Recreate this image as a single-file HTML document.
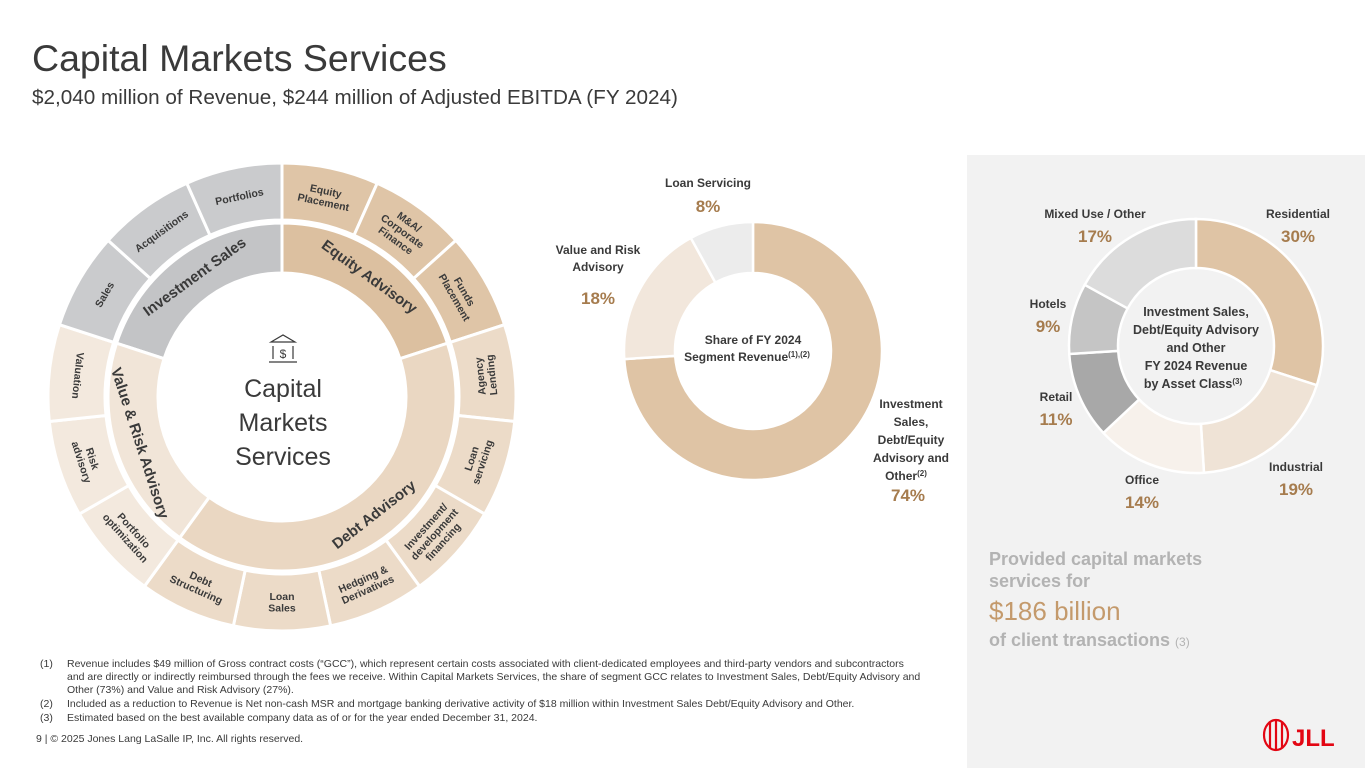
<!DOCTYPE html>
<html><head><meta charset="utf-8">
<style>
html,body{margin:0;padding:0;background:#fff;}
body{width:1365px;height:768px;position:relative;overflow:hidden;font-family:"Liberation Sans",sans-serif;color:#3a3a3a;}
svg{position:absolute;left:0;top:0;}
text{font-family:"Liberation Sans",sans-serif;}
</style></head><body>
<svg id="s" width="1365" height="768" viewBox="0 0 1365 768">
  <rect x="967" y="155" width="398" height="613" fill="#f2f2f2"/>
  <text x="32" y="71" font-size="37.5" fill="#3a3a3a" style="font-weight:300">Capital Markets Services</text>
  <text x="32" y="104" font-size="20.7" fill="#3a3a3a">$2,040 million of Revenue, $244 million of Adjusted EBITDA (FY 2024)</text>
  <g id="sun"></g>
  <g id="d1"></g>
  <g id="d2"></g>
  <g font-size="10.5" fill="#3a3a3a">
    <text x="40" y="667">(1)</text><text x="67" y="667">Revenue includes $49 million of Gross contract costs (“GCC”), which represent certain costs associated with client-dedicated employees and third-party vendors and subcontractors</text>
    <text x="67" y="680">and are directly or indirectly reimbursed through the fees we receive. Within Capital Markets Services, the share of segment GCC relates to Investment Sales, Debt/Equity Advisory and</text>
    <text x="67" y="693">Other (73%) and Value and Risk Advisory (27%).</text>
    <text x="40" y="707">(2)</text><text x="67" y="707">Included as a reduction to Revenue is Net non-cash MSR and mortgage banking derivative activity of $18 million within Investment Sales Debt/Equity Advisory and Other.</text>
    <text x="40" y="721">(3)</text><text x="67" y="721">Estimated based on the best available company data as of or for the year ended December 31, 2024.</text>
  </g>
  <text x="36" y="742" font-size="10.5" fill="#3a3a3a">9  |  © 2025 Jones Lang LaSalle IP, Inc. All rights reserved.</text>
  <g>
    <text x="989" y="565" font-size="18" font-weight="bold" fill="#b3b3b3">Provided capital markets</text>
    <text x="989" y="587" font-size="18" font-weight="bold" fill="#b3b3b3">services for</text>
    <text x="989" y="620" font-size="26" fill="#c49a6c" style="font-weight:300">$186 billion</text>
    <text x="989" y="646" font-size="18" font-weight="bold" fill="#b3b3b3">of client transactions <tspan font-size="12" font-weight="normal">(3)</tspan></text>
  </g>
  <g>
    <g fill="none" stroke="#e30613" stroke-width="2.2">
      <ellipse cx="1276" cy="735" rx="12" ry="15"/>
      <path d="M1270 722 v26 M1276 721 v28 M1282 722 v26"/>
    </g>
    <text x="1292" y="746" font-size="24" font-weight="bold" fill="#e30613" font-family="Liberation Serif">JLL</text>
  </g>
</svg>
<script>
// ===== Sunburst data =====
const innerLabels = ["Investment Sales","Equity Advisory","Debt Advisory","Value & Risk Advisory"];
const innerStart = [288, 0, 72, 216];
const innerEnd = [360, 72, 216, 288];
const innerColors = ["#c3c4c6","#dcc0a0","#ead7c2","#f1e5d8"];
const outerLabels = [["Equity","Placement"],["M&A/","Corporate","Finance"],["Funds","Placement"],["Agency","Lending"],["Loan","servicing"],["Investment/","development","financing"],["Hedging &","Derivatives"],["Loan","Sales"],["Debt","Structuring"],["Portfolio","optimization"],["Risk","advisory"],["Valuation"],["Sales"],["Acquisitions"],["Portfolios"]];
const outerGroup = [1,1,1,2,2,2,2,2,2,3,3,3,0,0,0];
const outerColors = ["#cacbcd","#dfc5a7","#ecdbc8","#f3e9de"];
// ===== Donut 1 data =====
const segCats = ["Investment Sales, Debt/Equity Advisory and Other","Value and Risk Advisory","Loan Servicing"];
const segValues = [74, 18, 8];
const segColors = ["#dfc4a5","#f2e7dc","#ececec"];
// ===== Donut 2 data =====
const assetCats = ["Residential","Industrial","Office","Retail","Hotels","Mixed Use / Other"];
const assetValues = [30, 19, 14, 11, 9, 17];
const assetColors = ["#dfc4a5","#efe3d6","#f7f1eb","#a8a8a8","#c5c5c5","#dcdcdc"];

const NS="http://www.w3.org/2000/svg";
function pt(cx,cy,r,a){const t=a*Math.PI/180;return [cx+r*Math.sin(t),cy-r*Math.cos(t)];}
function arc(cx,cy,r0,r1,a0,a1){
  const p1=pt(cx,cy,r1,a0),p2=pt(cx,cy,r1,a1),p3=pt(cx,cy,r0,a1),p4=pt(cx,cy,r0,a0);
  const lg=(a1-a0)>180?1:0;
  return `M${p1[0]},${p1[1]}A${r1},${r1} 0 ${lg} 1 ${p2[0]},${p2[1]}L${p3[0]},${p3[1]}A${r0},${r0} 0 ${lg} 0 ${p4[0]},${p4[1]}Z`;
}
function mk(tag,attrs,parent){const e=document.createElementNS(NS,tag);for(const k in attrs)e.setAttribute(k,attrs[k]);parent.appendChild(e);return e;}
function rotFor(a){a=((a%360)+360)%360;return (a>=300||a<=60)?a:a-180;}
function label(parent,x,y,rot,lines,size,weight,fill,lh){
  const t=mk('text',{transform:`translate(${x},${y}) rotate(${rot})`,'font-size':size,'font-weight':weight,fill:fill,'text-anchor':'middle'},parent);
  const n=lines.length;
  lines.forEach((l,i)=>{const s=mk('tspan',{x:0,y:(i-(n-1)/2)*lh+size*0.35},t);s.textContent=l;});
  return t;
}
// Sunburst
const sun=document.getElementById('sun');
const SX=282,SY=397;
const step=360/outerLabels.length;
outerLabels.forEach((lines,i)=>{
  const a0=i*step,a1=(i+1)*step;
  const p=mk('path',{d:arc(SX,SY,177,234,a0,a1),fill:outerColors[outerGroup[i]],stroke:'#fff','stroke-width':3},sun);
  
  
  const m=(a0+a1)/2,c=pt(SX,SY,205,m);
  const t=label(sun,c[0],c[1],rotFor(m),lines,10.5,'bold','#3a3a3a',11.5);
  
  
});
innerLabels.forEach((l,i)=>{
  const p=mk('path',{d:arc(SX,SY,124,174,innerStart[i],innerEnd[i]),fill:innerColors[i],stroke:'#fff','stroke-width':3},sun);
  
  
  let m=(innerStart[i]+innerEnd[i])/2; if(i===2)m=142;
  const c=pt(SX,SY,149,m);
  const t=label(sun,c[0],c[1],rotFor(m),[l],15,'bold','#3a3a3a',16);
  
  
});
// center
const ic=mk('g',{fill:'none',stroke:'#3a3a3a','stroke-width':1.2},sun);


mk('path',{d:'M271 342 L283 335 L295 342 Z M269 362 H297 M273 346 V359 M293 346 V359'},ic);
const dl=mk('text',{x:283,y:358,'font-size':12,'text-anchor':'middle',fill:'#3a3a3a'},sun);dl.textContent='$';
['Capital','Markets','Services'].forEach((w,i)=>{
  const t=mk('text',{x:283,y:397+i*34,'font-size':25,'text-anchor':'middle',fill:'#3a3a3a','font-weight':300},sun);
  t.textContent=w;
  
  
});
// Donut builder
function donut(g,cx,cy,r0,r1,vals,cols,name){
  const tot=vals.reduce((a,b)=>a+b,0);let a=0;
  vals.forEach((v,i)=>{const a1=a+v/tot*360;
    const p=mk('path',{d:arc(cx,cy,r0,r1,a,a1),fill:cols[i],stroke:'#fff','stroke-width':2.5},g);
    
    
    a=a1;});
}
const d1=document.getElementById('d1');
donut(d1,753,351,78,129,segValues,segColors,'segment-slice');
function txt(g,x,y,s,size,weight,fill,anchor,name){
  const t=mk('text',{x:x,y:y,'font-size':size,'font-weight':weight,fill:fill,'text-anchor':anchor||'middle'},g);
  t.textContent=s;
  
  
  return t;
}
const PC="#a67c4e";
txt(d1,708,187,segCats[2],12,'bold','#3a3a3a','middle','loan-servicing-label');
txt(d1,708,212,segValues[2]+'%',17,'bold',PC,'middle','loan-servicing-value');
txt(d1,598,254,'Value and Risk',12,'bold','#3a3a3a','middle','value-risk-label');
txt(d1,598,271,'Advisory',12,'bold','#3a3a3a','middle','value-risk-label');
txt(d1,598,304,segValues[1]+'%',17,'bold',PC,'middle','value-risk-value');
['Investment','Sales,','Debt/Equity','Advisory and'].forEach((l,i)=>txt(d1,911,408+i*18,l,12,'bold','#3a3a3a','middle','investment-sales-label'));
const ot=txt(d1,906,480,'Other',12,'bold','#3a3a3a','middle','investment-sales-label');
const sup=mk('tspan',{'font-size':8,dy:-4},ot);sup.textContent='(2)';
txt(d1,908,501,segValues[0]+'%',17,'bold',PC,'middle','investment-sales-value');
txt(d1,753,344,'Share of FY 2024',12,'bold','#3a3a3a','middle','donut-center-title');
const st=txt(d1,747,361,'Segment  Revenue',12,'bold','#3a3a3a','middle','donut-center-title');
const sp2=mk('tspan',{'font-size':8,dy:-4},st);sp2.textContent='(1),(2)';
// Donut 2
const d2=document.getElementById('d2');
donut(d2,1196,346,78,127,assetValues,assetColors,'asset-class-slice');
mk('circle',{cx:1196,cy:346,r:76,fill:'#f2f2f2'},d2);
const lp=[[1298,218],[1296,471],[1142,484],[1056,401],[1048,308],[1095,218]];
assetCats.forEach((c,i)=>{
  txt(d2,lp[i][0],lp[i][1],c,12,'bold','#3a3a3a','middle','asset-class-label');
  txt(d2,lp[i][0],lp[i][1]+24,assetValues[i]+'%',17,'bold',PC,'middle','asset-class-value');
});
['Investment Sales,','Debt/Equity Advisory','and Other','FY 2024 Revenue'].forEach((l,i)=>txt(d2,1196,316+i*18,l,12.5,'bold','#3a3a3a','middle','asset-donut-center-title'));
const bt=txt(d2,1193,388,'by Asset Class',12.5,'bold','#3a3a3a','middle','asset-donut-center-title');
const sp3=mk('tspan',{'font-size':8,dy:-4},bt);sp3.textContent='(3)';
</script>
</body></html>
